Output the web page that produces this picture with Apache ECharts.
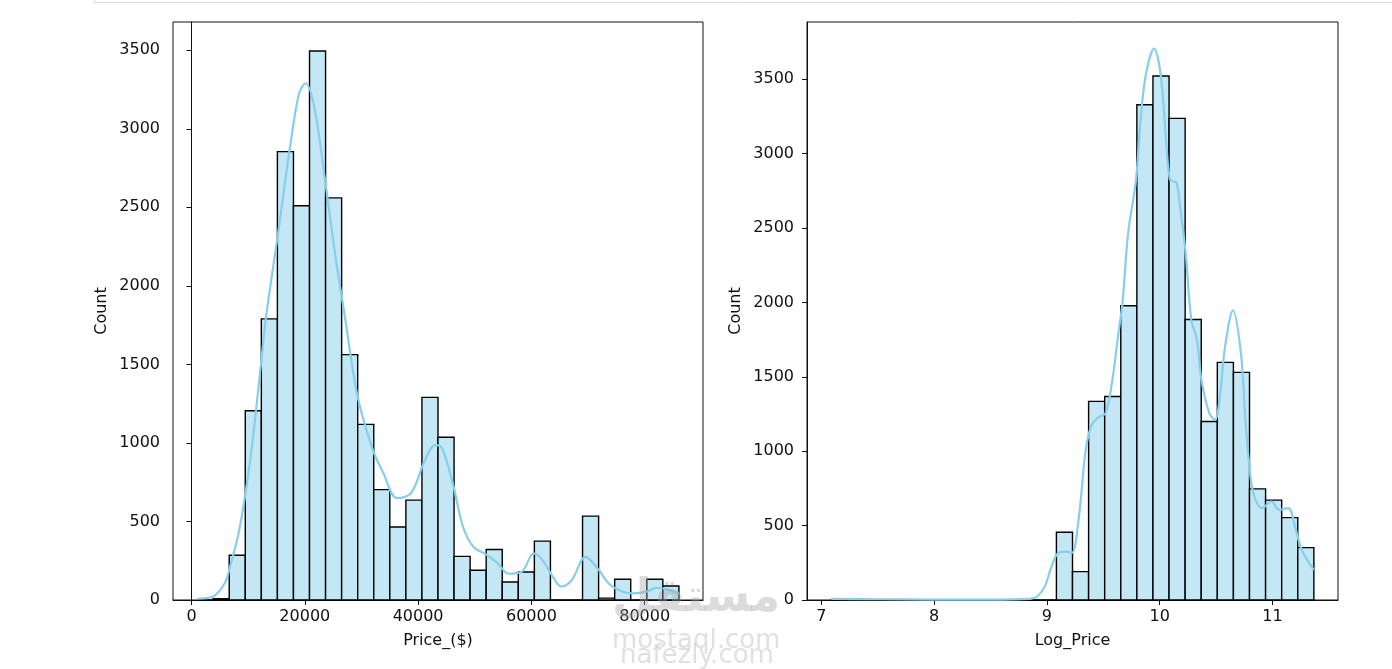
<!DOCTYPE html>
<html>
<head>
<meta charset="utf-8">
<script src="https://cdn.jsdelivr.net/npm/echarts@6/dist/echarts.min.js"></script>
<style>
html,body{margin:0;padding:0;background:#fff;}
#chart{width:1392px;height:669px;}
</style>
</head>
<body>
<div id="chart"></div>
<script>
// ---------- DATA ----------
// Left histogram: Price_($), 30 bins
var priceBinMin = 987;
var priceBinWidth = 2835;
var priceCounts = [0, 8, 285, 1205, 1790, 2855, 2510, 3495, 2560, 1562, 1118, 703, 465, 636, 1290, 1036, 278, 189, 322, 115, 178, 375, 0, 0, 534, 12, 132, 0, 132, 89];
// Left KDE (x, count)
var priceKdeX = [987, 3740, 5880, 6800, 8310, 9530, 10750, 12270, 13150, 15270, 17390, 18980, 20160, 21680, 23500, 25330, 27050, 29340, 32040, 33880, 36280, 38750, 41220, 43050, 44220, 46110, 47930, 49760, 52160, 54030, 56000, 58290, 60420, 61960, 63780, 65290, 67130, 69570, 71700, 74140, 77940, 80350, 82100, 84000, 86038];
var priceKdeY = [8, 20, 108, 212, 425, 680, 1000, 1505, 1800, 2333, 2884, 3223, 3290, 3138, 2693, 2207, 1810, 1293, 954, 807, 649, 680, 891, 986, 967, 744, 466, 339, 286, 235, 168, 180, 297, 254, 148, 85, 127, 275, 200, 90, 42, 53, 78, 68, 40];
// Right histogram: Log_Price, 30 bins
var logBinMin = 7.086;
var logBinWidth = 0.1427;
var logCounts = [1, 0, 0, 0, 0, 0, 0, 0, 0, 0, 0, 0, 0, 0, 455, 191, 1335, 1368, 1978, 3329, 3522, 3237, 1885, 1200, 1597, 1530, 747, 671, 554, 352];
// Right KDE (x, count)
var logKdeX = [7.086, 7.5, 8.0, 8.5, 8.85, 8.91, 8.98, 9.04, 9.10, 9.17, 9.22, 9.28, 9.34, 9.39, 9.45, 9.52, 9.58, 9.63, 9.67, 9.72, 9.79, 9.83, 9.88, 9.95, 10.01, 10.06, 10.09, 10.12, 10.15, 10.18, 10.23, 10.28, 10.33, 10.37, 10.44, 10.49, 10.53, 10.58, 10.65, 10.72, 10.76, 10.79, 10.83, 10.91, 10.99, 11.06, 11.14, 11.20, 11.26, 11.367];
var logKdeY = [8, 5, 3, 3, 8, 22, 90, 224, 316, 325, 316, 538, 987, 1166, 1224, 1256, 1480, 1772, 2000, 2467, 2826, 3230, 3544, 3706, 3522, 3050, 2826, 2815, 2804, 2647, 2333, 1884, 1750, 1480, 1256, 1211, 1346, 1705, 1947, 1660, 1211, 942, 718, 617, 662, 606, 617, 493, 336, 202];
// Tick labels
var priceTicks = [0, 20000, 40000, 60000, 80000];
var logTicks = [7, 8, 9, 10, 11];
var countTicks = [0, 500, 1000, 1500, 2000, 2500, 3000, 3500];

// ---------- BUILD ----------
function binData(min, width, counts) {
  return counts.map(function (c, i) {
    return [min + i * width, min + (i + 1) * width, c];
  });
}
function pairs(xs, ys) {
  return xs.map(function (x, i) { return [x, ys[i]]; });
}
function plain(v) { return String(Math.round(v * 1000) / 1000); }

var FONT = 'DejaVu Sans';
var TXT = '#111';
var SPINE = '#111';

function xAxisCfg(idx, min, max, ticks, name) {
  return {
    type: 'value', gridIndex: idx, min: min, max: max,
    name: name, nameLocation: 'middle', nameGap: 33,
    nameTextStyle: {fontFamily: FONT, fontSize: 16, color: TXT},
    axisLine: {show: true, onZero: false, lineStyle: {color: SPINE, width: 1}},
    axisTick: {show: true, length: 5, customValues: ticks, lineStyle: {color: SPINE, width: 1}},
    axisLabel: {customValues: ticks, formatter: plain, margin: 9, fontFamily: FONT, fontSize: 16, color: TXT},
    splitLine: {show: false}
  };
}
function yAxisCfg(idx, max, ticks) {
  return {
    type: 'value', gridIndex: idx, min: 0, max: max,
    name: 'Count', nameLocation: 'middle', nameGap: 63, nameRotate: 90,
    nameTextStyle: {fontFamily: FONT, fontSize: 16, color: TXT},
    axisLine: {show: true, lineStyle: {color: SPINE, width: 1}},
    axisTick: {show: true, length: 5, customValues: ticks, lineStyle: {color: SPINE, width: 1}},
    axisLabel: {customValues: ticks, formatter: plain, margin: 13, fontFamily: FONT, fontSize: 16, color: TXT},
    splitLine: {show: false}
  };
}
function histSeries(idx, data) {
  return {
    type: 'custom', xAxisIndex: idx, yAxisIndex: idx, data: data,
    encode: {x: [0, 1], y: 2}, z: 2,
    renderItem: function (params, api) {
      var p0 = api.coord([api.value(0), api.value(2)]);
      var p1 = api.coord([api.value(1), 0]);
      return {
        type: 'rect',
        shape: {x: p0[0], y: p0[1], width: p1[0] - p0[0], height: p1[1] - p0[1]},
        style: {fill: '#c3e7f5', stroke: '#000', lineWidth: 1.4}
      };
    }
  };
}
function kdeSeries(idx, data) {
  return {
    type: 'line', xAxisIndex: idx, yAxisIndex: idx, data: data,
    smooth: 0.35, showSymbol: false, symbol: 'none', z: 3, clip: true,
    lineStyle: {color: '#87ceeb', width: 2.2}
  };
}

var chart = echarts.init(document.getElementById('chart'), null, {renderer: 'canvas'});
chart.setOption({
  backgroundColor: '#fff',
  animation: false,
  grid: [
    {left: 173, top: 22, width: 530, height: 578, show: true, borderColor: SPINE, borderWidth: 1, containLabel: false},
    {left: 807, top: 22, width: 531, height: 578, show: true, borderColor: SPINE, borderWidth: 1, containLabel: false}
  ],
  xAxis: [
    xAxisCfg(0, -3266, 90290, priceTicks, 'Price_($)'),
    xAxisCfg(1, 6.872, 11.581, logTicks, 'Log_Price')
  ],
  yAxis: [
    yAxisCfg(0, 3680, countTicks),
    yAxisCfg(1, 3885, countTicks)
  ],
  series: [
    histSeries(0, binData(priceBinMin, priceBinWidth, priceCounts)),
    kdeSeries(0, pairs(priceKdeX, priceKdeY)),
    histSeries(1, binData(logBinMin, logBinWidth, logCounts)),
    kdeSeries(1, pairs(logKdeX, logKdeY))
  ],
  graphic: [
    {type: 'polyline', silent: true, shape: {points: [[94.5, 0], [94.5, 2.5], [1392, 2.5]]}, style: {stroke: '#d9d9d9', lineWidth: 1, fill: null}},
    {type: 'text', silent: true, z: 100, left: 612, top: 576, style: {text: 'مستقل', font: 'bold 46px "DejaVu Sans"', fill: 'rgba(165,165,165,0.4)'}},
    {type: 'text', silent: true, z: 100, left: 612, top: 628, style: {text: 'mostaql.com', font: '26px "DejaVu Sans"', fill: 'rgba(165,165,165,0.35)'}},
    {type: 'text', silent: true, z: 100, left: 620, top: 643, style: {text: 'nafezly.com', font: '26px "DejaVu Sans"', fill: 'rgba(165,165,165,0.35)'}}
  ]
});
</script>
</body>
</html>
